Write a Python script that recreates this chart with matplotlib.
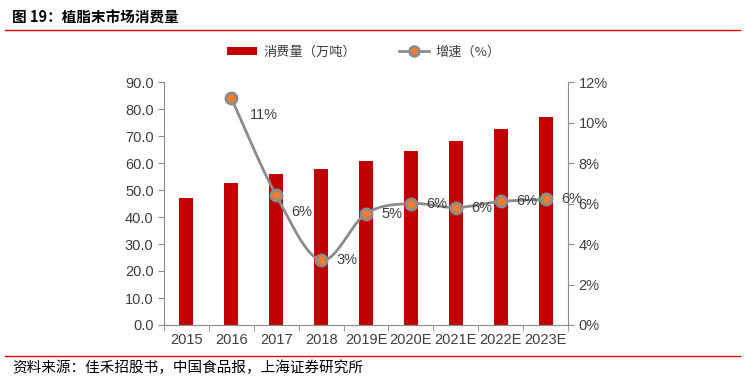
import numpy as np
import matplotlib
matplotlib.use("Agg")
import matplotlib.pyplot as plt
from matplotlib.lines import Line2D
from matplotlib.patches import Patch

years = ["2015", "2016", "2017", "2018", "2019E", "2020E", "2021E", "2022E", "2023E"]
consumption = [47.0, 52.6, 55.9, 57.8, 60.7, 64.4, 68.1, 72.6, 77.0]
growth_years = ["2016", "2017", "2018", "2019E", "2020E", "2021E", "2022E", "2023E"]
growth = [11.2, 6.4, 3.2, 5.5, 6.0, 5.8, 6.1, 6.2]
growth_labels = ["11%", "6%", "3%", "5%", "6%", "6%", "6%", "6%"]

plt.rcParams['font.family'] = ['Liberation Sans', 'Noto Sans CJK SC', 'DejaVu Sans']
CJK = ['Noto Sans CJK SC', 'DejaVu Sans']
gray = '#8C8C8C'
txt = '#404040'

fig = plt.figure(figsize=(7.45, 3.89), dpi=100)
ax = fig.add_axes([164/745, 1-325/389, (568-164)/745, (325-82)/389])
x = np.arange(len(years))
ax.bar(x, consumption, width=0.31, color='#C00000', zorder=2)
ax.set_xlim(-0.5, len(years)-0.5)
ax.set_ylim(0, 90)
ax.set_yticks(np.arange(0, 91, 10))
ax.set_yticklabels([f"{v:.1f}" for v in np.arange(0, 91, 10)], fontsize=10.5, color=txt)
ax.set_xticks(x)
ax.set_xticklabels(years, fontsize=10.5, color=txt)
ax.set_xticks(np.arange(-0.5, len(years), 1), minor=True)
ax.tick_params(axis='x', which='major', length=0, pad=6)
ax.tick_params(axis='x', which='minor', length=4, color=gray, direction='out')
ax.tick_params(axis='y', length=4, color=gray, direction='out')
ax.spines['top'].set_visible(False)
ax.spines['right'].set_visible(False)
for s in ['left', 'bottom']:
    ax.spines[s].set_color(gray)

ax2 = ax.twinx()
ax2.set_ylim(0, 12)
ax2.set_yticks(np.arange(0, 13, 2))
ax2.set_yticklabels([f"{v}%" for v in range(0, 13, 2)], fontsize=10.5, color=txt)
ax2.tick_params(axis='y', length=4, color=gray, direction='out')
for s in ['top', 'left', 'bottom']:
    ax2.spines[s].set_visible(False)
ax2.spines['right'].set_color(gray)

gx = np.array([years.index(y) for y in growth_years], dtype=float)
gy = np.array(growth)

# Catmull-Rom style Bezier smoothing (like Excel smoothed line)
def smooth(px, py, n=30):
    P = np.column_stack([px, py])
    P = np.vstack([P[0], P, P[-1]])
    out = []
    for i in range(1, len(P)-2):
        p0, p1, p2, p3 = P[i-1], P[i], P[i+1], P[i+2]
        t = np.linspace(0, 1, n)[:, None]
        c1 = p1 + (p2 - p0) / 6
        c2 = p2 - (p3 - p1) / 6
        b = ((1-t)**3)*p1 + 3*((1-t)**2)*t*c1 + 3*(1-t)*t**2*c2 + t**3*p2
        out.append(b)
    out = np.vstack(out)
    return out[:, 0], out[:, 1]

sx, sy = smooth(gx, gy)
ax2.plot(sx, sy, color=gray, lw=2, zorder=3)
ax2.plot(gx, gy, linestyle='none', marker='o', markersize=8, markerfacecolor='#ED7D31',
         markeredgecolor=gray, markeredgewidth=2, zorder=4)
offsets = [(0.42, -0.85), (0.33, -0.8), (0.35, 0.0), (0.35, 0.0), (0.35, 0.0), (0.35, 0.0), (0.35, 0.0), (0.35, 0.0)]
for xi, yi, lab, (dx, dy) in zip(gx, gy, growth_labels, offsets):
    ax2.text(xi+dx, yi+dy, lab, fontsize=10.5, color=txt, ha='left', va='center', zorder=5)

# title
fig.text(12/745, 1-18/389, "图 19：植脂末市场消费量", fontsize=10.5, fontweight='bold',
         family=CJK, color='black', ha='left', va='center')
fig.add_artist(Line2D([5/745, 740/745], [1-30/389, 1-30/389], color='#E00000', lw=1))
# source
fig.add_artist(Line2D([5/745, 740/745], [1-356/389, 1-356/389], color='#E00000', lw=1))
fig.text(12/745, 1-368/389, "资料来源：佳禾招股书，中国食品报，上海证券研究所", fontsize=10.5,
         family=CJK, style='italic', color='black', ha='left', va='center')

# legend
handles = [Patch(facecolor='#C00000', edgecolor='none'),
           Line2D([0], [0], color=gray, lw=2, marker='o', markersize=7,
                  markerfacecolor='#ED7D31', markeredgecolor=gray, markeredgewidth=2)]
fig.legend(handles, ["消费量（万吨）", "增速（%）"], loc='center', bbox_to_anchor=(364/745, 1-52/389),
           ncol=2, frameon=False, prop={'family': CJK, 'size': 9.5}, handlelength=2.3,
           handleheight=0.55, handletextpad=0.5, columnspacing=3.2, labelcolor=txt)

fig.savefig("out.png", dpi=100)
